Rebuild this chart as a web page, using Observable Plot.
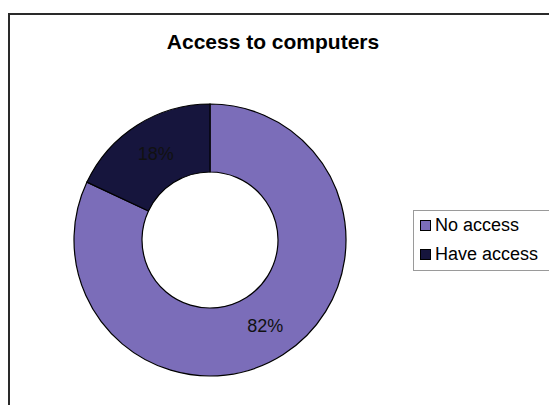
<!DOCTYPE html>
<html>
<head>
<meta charset="utf-8">
<script src="https://cdn.jsdelivr.net/npm/d3@7"></script>
<script src="https://cdn.jsdelivr.net/npm/@observablehq/plot@0.6"></script>
<style>
  html, body { margin: 0; padding: 0; background: #fff; overflow: hidden; width: 549px; height: 405px; }
  #frame { position: absolute; left: 8px; top: 13px; width: 600px; height: 450px; border: 2px solid #2a2a2a; box-sizing: border-box; }
  #chart { position: absolute; left: 0; top: 0; }
  #legend { position: absolute; left: 413px; top: 210px; width: 160px; height: 61px; border: 1px solid #9a9a9a; box-sizing: border-box; background: #fff;
    font-family: "Liberation Sans", Arial, sans-serif; font-size: 18px; color: #000; }
  .item { position: absolute; left: 6px; display: flex; align-items: center; white-space: nowrap; }
  .sw { width: 9px; height: 9px; border: 1px solid #000; margin-right: 4px; box-sizing: content-box; }
</style>
</head>
<body>
<div id="frame"></div>
<div id="chart"></div>
<div id="legend"></div>
<script>
const title = "Access to computers";
const categories = ["No access", "Have access"];
const values = [82, 18];
const colors = ["#7b6db9", "#16153d"];
const labels = ["82%", "18%"];

const data = categories.map((c, i) => ({category: c, value: values[i], label: labels[i]}));
const arcs = d3.pie().value(d => d.value).sort(null)(data);
const innerRatio = 0.5;
const midR = (1 + innerRatio) / 2;
const labelData = arcs.map(a => {
  const m = (a.startAngle + a.endAngle) / 2;
  return {label: a.data.label, x: midR * Math.sin(m), y: midR * Math.cos(m)};
});

function donutMark(index, scales, values, dimensions, context) {
  const cx = scales.x(0), cy = scales.y(0);
  const r = scales.x(1) - scales.x(0);
  const arc = d3.arc().innerRadius(r * innerRatio).outerRadius(r);
  const g = d3.create("svg:g").attr("transform", `translate(${cx},${cy})`);
  g.selectAll("path").data(arcs).join("path")
    .attr("d", arc)
    .attr("fill", d => scales.color(d.data.category))
    .attr("stroke", "#000")
    .attr("stroke-width", 1.2);
  return g.node();
}

const chart = Plot.plot({
  width: 549,
  height: 405,
  margin: 0,
  x: {domain: [-1, 1], range: [74, 346], axis: null},
  y: {domain: [-1, 1], range: [376, 104], axis: null},
  color: {domain: categories, range: colors},
  style: {background: "transparent", fontFamily: "'Liberation Sans', Arial, sans-serif"},
  marks: [
    donutMark,
    Plot.text(labelData, {x: "x", y: "y", text: "label", fontSize: 18, fill: "#111"}),
    Plot.text([title], {frameAnchor: "top", dx: -2, dy: 34, fontSize: 21, fontWeight: "bold", fill: "#000"})
  ]
});
document.getElementById("chart").appendChild(chart);

const legend = document.getElementById("legend");
categories.forEach((c, i) => {
  const item = document.createElement("div");
  item.className = "item";
  item.style.top = (4 + i * 29) + "px";
  const sw = document.createElement("div");
  sw.className = "sw";
  sw.style.background = colors[i];
  const t = document.createElement("span");
  t.textContent = c;
  item.appendChild(sw);
  item.appendChild(t);
  legend.appendChild(item);
});
</script>
</body>
</html>
